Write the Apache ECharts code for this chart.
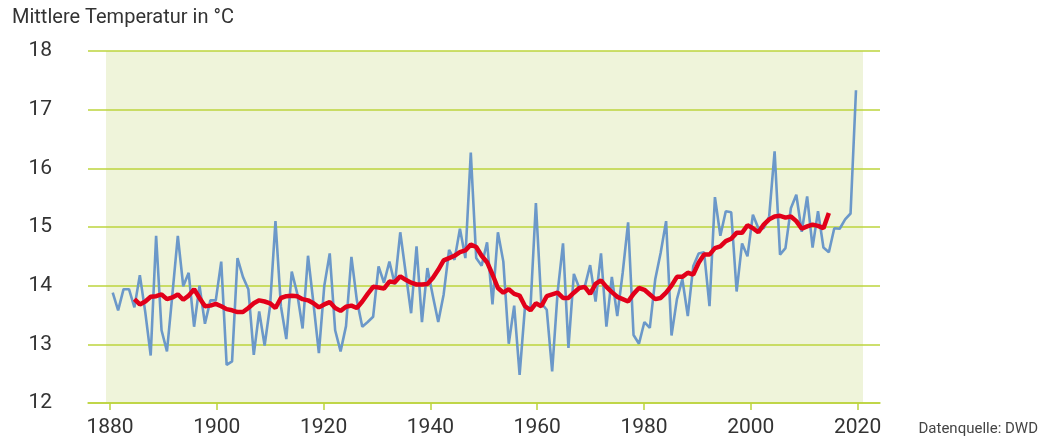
<!DOCTYPE html>
<html>
<head>
<meta charset="utf-8">
<script src="https://cdn.jsdelivr.net/npm/echarts@6/dist/echarts.min.js"></script>
<style>
  html, body { margin: 0; padding: 0; background: #fff; }
  #chart { width: 1047px; height: 445px; }
</style>
</head>
<body>
<div id="chart"></div>
<script>
// Jahre der Messreihe
var firstYear = 1881;
var lastYear = 2018;
var years = [];
for (var y = firstYear; y <= lastYear; y++) years.push(y);

// Jahresmittel (blaue Linie), 1881-2018
var jahreswerte = [
    13.88, 13.58, 13.94, 13.94, 13.63, 14.18, 13.55, 12.81, 14.85, 13.24,
    12.88, 13.85, 14.85, 13.99, 14.22, 13.30, 14.00, 13.35, 13.75, 13.75,
    14.41, 12.65, 12.71, 14.47, 14.15, 13.94, 12.82, 13.56, 12.98, 13.65,
    15.10, 13.65, 13.09, 14.24, 13.87, 13.27, 14.51, 13.70, 12.85, 14.00,
    14.55, 13.24, 12.88, 13.31, 14.49, 13.75, 13.30, 13.38, 13.47, 14.33,
    14.05, 14.41, 14.02, 14.91, 14.22, 13.53, 14.67, 13.38, 14.30, 13.83,
    13.38, 13.85, 14.61, 14.44, 14.97, 14.47, 16.27, 14.47, 14.34, 14.74,
    13.68, 14.91, 14.41, 13.01, 13.66, 12.48, 13.65, 13.62, 15.41, 13.70,
    13.59, 12.54, 13.88, 14.72, 12.94, 14.20, 13.96, 13.98, 14.35, 13.73,
    14.55, 13.30, 14.15, 13.48, 14.22, 15.08, 13.16, 13.01, 13.38, 13.28,
    14.11, 14.56, 15.10, 13.15, 13.77, 14.11, 13.48, 14.33, 14.55, 14.57,
    13.65, 15.51, 14.85, 15.27, 15.25, 13.90, 14.72, 14.50, 15.21, 14.98,
    14.98, 15.18, 16.29, 14.53, 14.64, 15.32, 15.55, 14.92, 15.52, 14.65,
    15.27, 14.65, 14.57, 14.98, 14.97, 15.13, 15.23, 17.33
];

// gleitendes Mittel (rote Linie), 1885-2013
var mittelStart = 1885;
var gleitendesMittel = [
    13.77, 13.68, 13.73, 13.81, 13.82, 13.85, 13.77, 13.80, 13.85, 13.76,
    13.83, 13.94, 13.79, 13.65, 13.66, 13.69, 13.65, 13.60, 13.58, 13.55,
    13.55, 13.62, 13.70, 13.75, 13.73, 13.70, 13.62, 13.79, 13.82, 13.83,
    13.82, 13.77, 13.75, 13.70, 13.63, 13.68, 13.72, 13.62, 13.57, 13.64,
    13.66, 13.62, 13.73, 13.86, 13.98, 13.97, 13.95, 14.07, 14.06, 14.16,
    14.10, 14.05, 14.02, 14.02, 14.03, 14.13, 14.27, 14.43, 14.47, 14.51,
    14.57, 14.60, 14.70, 14.66, 14.51, 14.40, 14.19, 13.96, 13.88, 13.94,
    13.86, 13.83, 13.65, 13.58, 13.70, 13.65, 13.82, 13.85, 13.88, 13.79,
    13.79, 13.88, 13.96, 13.98, 13.86, 14.03, 14.09, 13.98, 13.89, 13.81,
    13.77, 13.73, 13.86, 13.96, 13.93, 13.85, 13.77, 13.79, 13.88, 14.00,
    14.15, 14.15, 14.22, 14.19, 14.39, 14.53, 14.53, 14.64, 14.67, 14.76,
    14.80, 14.90, 14.90, 15.03, 14.98, 14.91, 15.04, 15.13, 15.18, 15.19,
    15.16, 15.18, 15.10, 14.97, 15.01, 15.04, 15.02, 14.98, 15.24
];

// Achsenbeschriftung
var tickYears = [1880, 1900, 1920, 1940, 1960, 1980, 2000, 2020];
var yTicks = [12, 13, 14, 15, 16, 17, 18];

var gruen = '#bcd43c';
var schrift = "Roboto, 'Liberation Sans', sans-serif";

var chart = echarts.init(document.getElementById('chart'));

var blauDaten = years.map(function (yr, i) { return [yr, jahreswerte[i]]; });
var rotDaten = gleitendesMittel.map(function (v, i) { return [mittelStart + i, v]; });

chart.setOption({
    animation: false,
    title: [
        {
            text: 'Mittlere Temperatur in °C',
            left: 7, top: 3,
            textStyle: { fontFamily: schrift, fontSize: 20, fontWeight: 'normal', color: '#333' }
        },
        {
            text: 'Datenquelle: DWD',
            right: 4, bottom: 3,
            textStyle: { fontFamily: schrift, fontSize: 15, fontWeight: 'normal', color: '#444' }
        }
    ],
    grid: [
        { left: 88, right: 167, top: 51, bottom: 42 },
        { left: 106, right: 184, top: 51, bottom: 42, show: true, backgroundColor: '#eff4da', borderWidth: 0 }
    ],
    xAxis: [
        // Datenachse (unsichtbar)
        { gridIndex: 0, type: 'value', min: 1876.445, max: 2022.426, show: false },
        // sichtbare Jahresachse
        {
            gridIndex: 0, type: 'value', min: 1875.88, max: 2024.2, position: 'bottom',
            axisLine: { show: true, lineStyle: { color: gruen, width: 1.5 } },
            axisTick: { show: true, customValues: tickYears, length: 7, lineStyle: { color: gruen, width: 1.5 } },
            axisLabel: {
                customValues: tickYears,
                formatter: function (v) { return String(v); },
                fontFamily: schrift, fontSize: 21, color: '#333', margin: 14
            },
            splitLine: { show: false }
        },
        { gridIndex: 1, type: 'value', min: 0, max: 1, show: false }
    ],
    yAxis: [
        {
            gridIndex: 0, type: 'value', min: yTicks[0], max: yTicks[yTicks.length - 1], interval: 1,
            axisLine: { show: false },
            axisTick: { show: false },
            axisLabel: { fontFamily: schrift, fontSize: 21, color: '#333', margin: 36 },
            splitLine: { show: true, lineStyle: { color: gruen, width: 1.5 } }
        },
        { gridIndex: 1, type: 'value', min: 0, max: 1, show: false }
    ],
    series: [
        {
            name: 'Jahresmittel',
            type: 'line',
            xAxisIndex: 0, yAxisIndex: 0,
            data: blauDaten,
            symbol: 'none',
            lineStyle: { color: '#6b98c9', width: 2.6 },
            z: 3
        },
        {
            name: 'gleitendes Mittel',
            type: 'line',
            xAxisIndex: 0, yAxisIndex: 0,
            data: rotDaten,
            symbol: 'none',
            lineStyle: { color: '#e2001a', width: 4.5 },
            z: 4
        }
    ]
});
</script>
</body>
</html>
